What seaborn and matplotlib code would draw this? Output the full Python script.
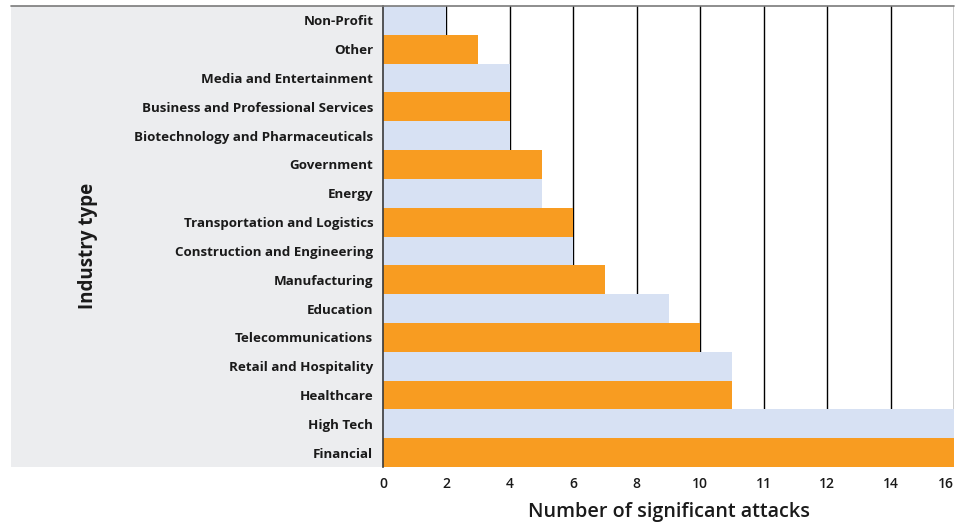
import numpy as np
import pandas as pd
import matplotlib
matplotlib.use("Agg")
import matplotlib.pyplot as plt
from matplotlib.patches import Rectangle
from matplotlib.lines import Line2D
import seaborn as sns

# Industries, top to bottom, with the number of significant attacks
industries = [
    "Non-Profit", "Other", "Media and Entertainment",
    "Business and Professional Services", "Biotechnology and Pharmaceuticals",
    "Government", "Energy", "Transportation and Logistics",
    "Construction and Engineering", "Manufacturing", "Education",
    "Telecommunications", "Retail and Hospitality", "Healthcare",
    "High Tech", "Financial",
]
attacks = [2, 3, 4, 4, 4, 5, 5, 6, 6, 7, 9, 10, 10.5, 10.5, 16, 16]

# Axis ticks are evenly spaced even though their values are not
tick_values = [0, 2, 4, 6, 8, 10, 11, 12, 14, 16]
tick_labels = ["0", "2", "4", "6", "8", "10", "11", "12", "14", "16"]

BLUE = "#d7e1f3"
ORANGE = "#f89c21"
PANEL = "#ecedef"

sns.set_theme(style="white")
plt.rcParams["font.family"] = ["Open Sans", "DejaVu Sans"]

df = pd.DataFrame({"industry": industries, "attacks": attacks})
palette = {name: (BLUE if i % 2 == 0 else ORANGE) for i, name in enumerate(industries)}

fig = plt.figure(figsize=(9.58, 5.23), dpi=100)
W, H = 958, 523

# Grey label panel behind the category names
fig.patches.append(Rectangle((11 / W, 1 - 467 / H), (383 - 11) / W, (467 - 6) / H,
                             transform=fig.transFigure, facecolor=PANEL,
                             edgecolor="none", zorder=-5))

ax = fig.add_axes([383 / W, 1 - 467 / H, (954 - 383) / W, (467 - 6) / H])
ax.set_facecolor("none")

idx = np.arange(len(tick_values), dtype=float)
def fwd(v):
    return np.interp(v, tick_values, idx)
def inv(p):
    return np.interp(p, idx, tick_values)
ax.set_xscale("function", functions=(fwd, inv))

sns.barplot(data=df, y="industry", x="attacks", hue="industry", palette=palette,
            order=industries, width=1.0, legend=False, saturation=1,
            linewidth=0, ax=ax, zorder=2)

ax.set_xlim(0, 16)
ax.set_ylim(len(industries) - 0.5, -0.5)
ax.set_xticks(tick_values)
ax.set_xticklabels(tick_labels)
for v in tick_values[1:]:
    ax.axvline(v, color="black", lw=1.0, zorder=1)

for side in ["top", "right", "bottom"]:
    ax.spines[side].set_visible(False)
ax.spines["left"].set_color("#3a3a3a")
ax.spines["left"].set_linewidth(1.2)
ax.spines["left"].set_zorder(3)

ax.tick_params(axis="y", length=0, pad=7, labelsize=9.6, labelcolor="#1a1a1a")
ax.tick_params(axis="x", length=0, pad=7, labelsize=10, labelcolor="#1a1a1a")
for t in ax.get_yticklabels():
    t.set_fontweight("bold")
for t in ax.get_xticklabels():
    t.set_fontweight("semibold")
ax.get_xticklabels()[-1].set_horizontalalignment("right")

ax.set_ylabel("")
ax.set_xlabel("Number of significant attacks", fontsize=14.2, fontweight="semibold",
              color="#1a1a1a", labelpad=8)
fig.text(88 / W, 1 - 246 / H, "Industry type", rotation=90, ha="center", va="center",
         fontsize=13.5, fontweight="bold", color="#1a1a1a")

# Thin grey rule along the top edge
fig.lines.append(Line2D([11 / W, 954 / W], [1 - 6 / H, 1 - 6 / H],
                        transform=fig.transFigure, color="#7a7a7a", lw=1.2))

fig.savefig("out.png", dpi=100)
